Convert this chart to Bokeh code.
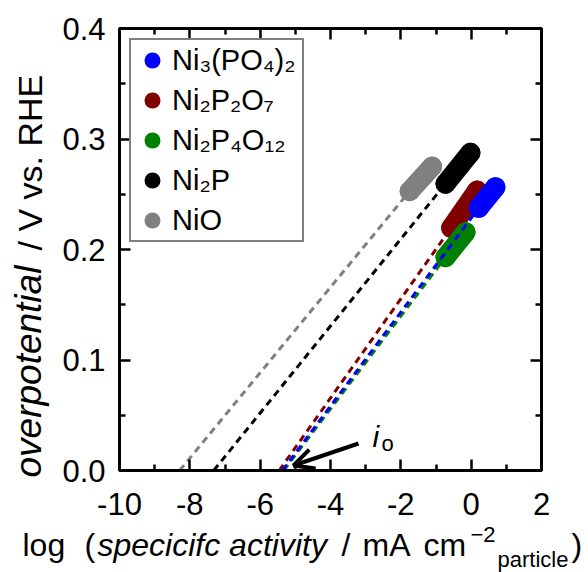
import numpy as np
from bokeh.plotting import figure
from bokeh.models import (Range1d, FixedTicker, LinearAxis, Legend, LegendItem,
                          Arrow, OpenHead)
from bokeh.core.properties import value
from bokeh.embed import file_html
from bokeh.resources import INLINE

# ---------------- data ----------------
series = ["Ni₃(PO₄)₂", "Ni₂P₂O₇", "Ni₂P₄O₁₂", "Ni₂P", "NiO"]
colors = ["#0000ff", "#800000", "#008000", "#000000", "#808080"]
# measured (log specific activity, overpotential) ranges of each data cluster
blob_x_start = [0.22, -0.57, -0.73, -0.73, -1.75]
blob_x_end = [0.69, 0.17, -0.16, -0.02, -1.11]
blob_y_start = [0.2377, 0.2196, 0.193, 0.2595, 0.2528]
blob_y_end = [0.2564, 0.2534, 0.2157, 0.2875, 0.2751]
# Tafel extrapolation to zero overpotential (log i_o)
log_io = [-5.37, -5.46, -5.33, -7.32, -8.29]

x_ticks = [-10, -8, -6, -4, -2, 0, 2]
x_tick_labels = ["-10", "-8", "-6", "-4", "-2", "0", "2"]
x_minor = [-9, -7, -5, -3, -1, 1]
y_ticks = [0.0, 0.1, 0.2, 0.3, 0.4]
y_tick_labels = ["0.0", "0.1", "0.2", "0.3", "0.4"]
y_minor = [0.05, 0.15, 0.25, 0.35]

# ---------------- layout ----------------
W, H = 588, 572
FL, FR, FT, FB = 119, 541, 28, 470
XMIN, XMAX, YMIN, YMAX = -10, 2, 0.0, 0.4
FONT = "Liberation Sans"


def px2x(px):
    return XMIN + (px - FL) * (XMAX - XMIN) / (FR - FL)


def px2y(py):
    return YMIN + (FB - py) * (YMAX - YMIN) / (FB - FT)


p = figure(width=W, height=H, x_range=Range1d(XMIN, XMAX), y_range=Range1d(YMIN, YMAX),
           output_backend="svg", toolbar_location=None,
           min_border_left=FL, min_border_right=W - FR,
           min_border_top=FT, min_border_bottom=H - FB)
p.xgrid.visible = False
p.ygrid.visible = False
p.outline_line_color = "black"
p.outline_line_width = 3
p.background_fill_color = "white"
p.border_fill_color = "white"

p.add_layout(LinearAxis(), "right")
p.add_layout(LinearAxis(), "above")


def style(ax, ticks, minor, labels, show, standoff):
    ax.ticker = FixedTicker(ticks=ticks, minor_ticks=minor)
    ax.axis_line_width = 3
    ax.axis_line_color = "black"
    ax.major_tick_in = 11
    ax.major_tick_out = 0
    ax.minor_tick_in = 6
    ax.minor_tick_out = 0
    ax.major_tick_line_width = 2.5
    ax.minor_tick_line_width = 2.5
    ax.major_tick_line_color = "black"
    ax.minor_tick_line_color = "black"
    ax.axis_label = None
    ax.major_label_text_font = FONT
    ax.major_label_text_font_size = "31px"
    ax.major_label_text_color = "black"
    if show:
        ax.major_label_overrides = {t: l for t, l in zip(ticks, labels)}
        ax.major_label_standoff = standoff
    else:
        ax.major_label_overrides = {t: "" for t in ticks}
        ax.major_label_standoff = 0


style(p.below[0], x_ticks, x_minor, x_tick_labels, True, 22)
style(p.above[0], x_ticks, x_minor, x_tick_labels, False, 0)
style(p.left[0], y_ticks, y_minor, y_tick_labels, True, 14)
style(p.right[0], y_ticks, y_minor, y_tick_labels, False, 0)

# ---------------- data clusters (thick rounded strokes) ----------------
draw_order = [1, 3, 4, 2, 0]
dot_r = {}
for i in draw_order:
    xs = [blob_x_start[i], blob_x_end[i]]
    ys = [blob_y_start[i], blob_y_end[i]]
    p.line(xs, ys, line_color=colors[i], line_width=20, line_cap="round")
    dot_r[i] = p.scatter(xs, ys, size=20, marker="circle", fill_color=colors[i],
                         line_color=None)

# ---------------- Tafel extrapolations ----------------
for i in draw_order:
    p.line([log_io[i], blob_x_start[i]], [0.0, blob_y_start[i]],
           line_color=colors[i], line_width=3, line_dash="7 5")

# ---------------- legend ----------------
items = [LegendItem(label=series[i], renderers=[dot_r[i]]) for i in range(len(series))]
leg = Legend(items=items, location="top_left", margin=10,
             padding=dict(left=1, right=6, top=0, bottom=0),
             spacing=0, glyph_width=40, glyph_height=40, label_standoff=0,
             label_text_font=FONT, label_text_font_size="29px",
             label_text_color="black",
             border_line_color="black", border_line_width=2.5,
             background_fill_color="white", background_fill_alpha=1.0)
p.add_layout(leg)


# ---------------- texts (overlay level: drawn outside the frame too) ----------------
def txt(text, px, py, size, italic=False, rotated=False):
    shift = 0.4 * size  # baseline correction of the text glyph
    if rotated:
        px, angle = px - shift, np.pi / 2
    else:
        py, angle = py - shift, 0.0
    p.text(x=[px2x(px)], y=[px2y(py)], text=[text], text_font=value(FONT),
           text_font_size=f"{size}px", text_color="black",
           text_font_style="italic" if italic else "normal",
           text_align="left", text_baseline="alphabetic", angle=angle,
           level="overlay")


# x-axis title
txt("log", 22, 557, 32)
txt("(", 84, 557, 32)
txt("specicifc activity", 97, 557, 32, italic=True)
txt("/", 341, 557, 32)
txt("mA", 362, 557, 32)
txt("cm", 423, 557, 32)
txt("−2", 470, 543, 22)
txt("particle", 497, 568, 22)
txt(")", 571, 557, 32)

# y-axis title (rotated)
txt("overpotential", 43, 477, 37, italic=True, rotated=True)
txt("/ V vs. RHE", 43, 250, 34, rotated=True)

# i_o annotation
txt("i", 372, 448, 30, italic=True)
txt("o", 381, 452, 22)
p.add_layout(Arrow(x_start=px2x(358), y_start=px2y(443), x_end=px2x(293), y_end=px2y(465),
                   line_width=4, line_color="black",
                   end=OpenHead(size=20, line_width=4, line_color="black")))

open("out.html", "w").write(file_html(p, INLINE))
